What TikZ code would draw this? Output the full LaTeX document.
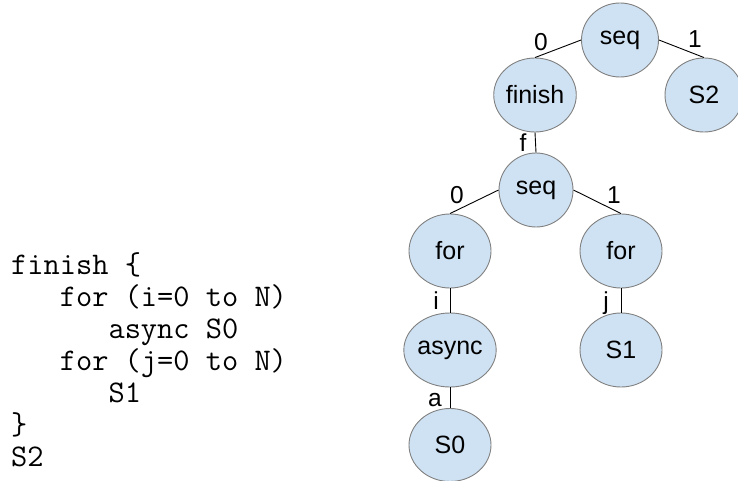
\documentclass[tikz,border=0pt]{standalone}
\usepackage{fontspec}
\setmainfont{Liberation Sans}
\setmonofont{Latin Modern Mono}
\usetikzlibrary{shapes.geometric}
\definecolor{nodefill}{HTML}{CFE2F3}
\definecolor{nodeline}{HTML}{808080}
\begin{document}
\begin{tikzpicture}[x=1pt,y=-1pt,
  tnode/.style={ellipse, draw=nodeline, fill=nodefill, line width=0.9pt, inner sep=0pt,
     minimum width=80pt, minimum height=74pt, font=\fontsize{25}{28}\selectfont},
  elabel/.style={font=\fontsize{24.5}{26}\selectfont, inner sep=0pt},
  edge/.style={draw=black, line width=0.9pt}]
\useasboundingbox (0,0) rectangle (738,481);
% code
\node[anchor=base west, align=left, inner sep=0pt,
      font=\ttfamily\fontsize{31.5}{32}\selectfont] (code) at (11,466)
 {finish \{\\
  \phantom{xxx}for (i=0 to N)\\
  \phantom{xxxxxx}async S0\\
  \phantom{xxx}for (j=0 to N)\\
  \phantom{xxxxxx}S1\\
  \}\\
  S2};
% tree nodes
\node[tnode, minimum width=77pt] (seqA) at (620,40) {seq};
\node[tnode, minimum width=74pt] (finish) at (535,95) {finish};
\node[tnode, minimum width=78pt] (s2) at (704,95) {S2};
\node[tnode, minimum width=74pt] (seqB) at (536,190) {seq};
\node[tnode, minimum width=82pt] (forL) at (450,251) {for};
\node[tnode, minimum width=82pt] (forR) at (621,251) {for};
\node[tnode, minimum width=82pt] (async) at (450,350) {async};
\node[tnode, minimum width=82pt] (s1) at (621,350) {S1};
\node[tnode, minimum width=82pt, minimum height=73pt] (s0) at (450,445) {S0};
% edges
\draw[edge] (seqA.west) -- (finish.north);
\draw[edge] (seqA.east) -- (s2.north);
\draw[edge] (finish.south) -- (seqB.north);
\draw[edge] (seqB.west) -- (forL.north);
\draw[edge] (seqB.east) -- (forR.north);
\draw[edge] (forL.south) -- (async.north);
\draw[edge] (forR.south) -- (s1.north);
\draw[edge] (async.south) -- (s0.north);
% labels
\node[elabel] (l0a) at (541,42) {0};
\node[elabel] (l1a) at (695,39) {1};
\node[elabel] (lf) at (523,143) {f};
\node[elabel] (l0b) at (457,195) {0};
\node[elabel] (l1b) at (614,195) {1};
\node[elabel] (li) at (436,301) {i};
\node[elabel] (lj) at (606,303) {j};
\node[elabel] (la) at (435,400) {a};
\end{tikzpicture}
\end{document}
